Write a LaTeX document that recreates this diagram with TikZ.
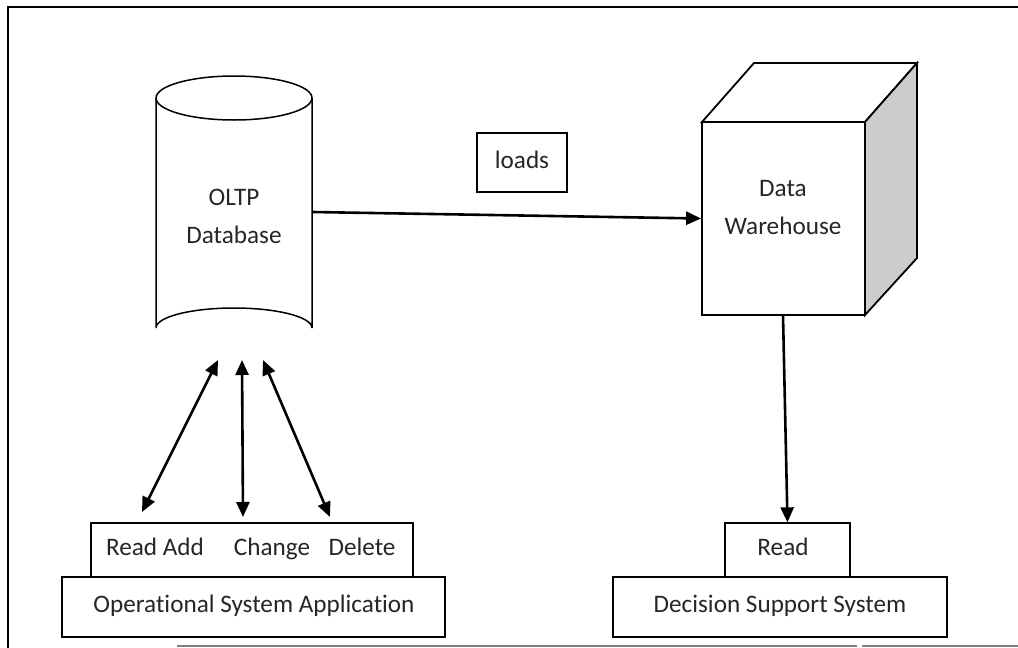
\documentclass[tikz,border=0pt]{standalone}
\usepackage{fontspec}
\setmainfont{Carlito}[Ligatures=NoCommon]
\usetikzlibrary{arrows.meta}
\begin{document}
\begin{tikzpicture}[x=1pt,y=-1pt,
  txt/.style={inner sep=0pt, text=black!85, font=\fontsize{25.2}{38}\selectfont, align=center},
  line/.style={txt, text height=16pt, text depth=5pt},
  plainbox/.style={draw, line width=1.3pt, inner sep=0pt, fill=white},
  conn/.style={line width=2.6pt, -{Triangle[length=15pt,width=13pt]}},
  biconn/.style={line width=2.6pt, {Triangle[length=15pt,width=13pt]}-{Triangle[length=15pt,width=13pt]}},
  shape3d/.style={line width=1.8pt, line join=miter}]
\useasboundingbox (0,0) rectangle (1018,648);
% frame
\draw[line width=1.6pt] (8,648) -- (8,7) -- (1018,7);
\draw[gray, line width=1.6pt] (177,646) -- (857,646) (862,646) -- (1018,646);
% cylinder
\draw[shape3d, line width=1.5pt] (156,98) -- (156,328) arc[start angle=180, end angle=360, x radius=78, y radius=20] -- (312,98);
\draw[shape3d, line width=1.5pt] (234,98) ellipse[x radius=78, y radius=22];
\node[txt] (oltp) at (234,216) {OLTP\\Database};
\coordinate (cylR) at (312,212);
% cube
\draw[shape3d, fill=white] (702,122) -- (754,63) -- (917,63) -- (865,122) -- cycle;
\draw[shape3d, fill=gray!40] (865,122) -- (917,63) -- (917,258) -- (865,315) -- cycle;
\node[draw, shape3d, fill=white, minimum width=163pt, minimum height=193pt, inner sep=0pt] (dw) at (783.5,218.5) {};
\node[txt] (dwtext) at (783,208) {Data\\Warehouse};
\coordinate (dwB) at (783,315);
% loads
\node[plainbox, minimum width=90pt, minimum height=59pt] (loads) at (522,162.5) {};
\node[line] (loadstext) at (522,163) {loads};
\draw[conn] (cylR) -- (dw.west);
% left boxes
\node[plainbox, minimum width=322pt, minimum height=54pt] (ops) at (252,550) {};
\node[line] (rdadd) at (155,550) {Read Add};
\node[line] (chg) at (272,550) {Change};
\node[line] (del) at (362,550) {Delete};
\node[plainbox, minimum width=383pt, minimum height=60pt] (osa) at (253.5,607) {};
\node[line] (osatext) at (254,607) {Operational System Application};
% right boxes
\node[plainbox, minimum width=125pt, minimum height=54pt] (read) at (787.5,550) {};
\node[line] (readtext) at (783,550) {Read};
\node[plainbox, minimum width=334pt, minimum height=60pt] (dss) at (780,607) {};
\node[line] (dsstext) at (780,607) {Decision Support System};
\draw[conn] (dwB) -- (read.north);
% bidirectional arrows
\coordinate (t1) at (218,360); \coordinate (b1) at (142,512);
\coordinate (t2) at (242,360); \coordinate (b2) at (243,517);
\coordinate (t3) at (263,360); \coordinate (b3) at (330,517);
\draw[biconn] (t1) -- (b1);
\draw[biconn] (t2) -- (b2);
\draw[biconn] (t3) -- (b3);
\end{tikzpicture}
\end{document}
